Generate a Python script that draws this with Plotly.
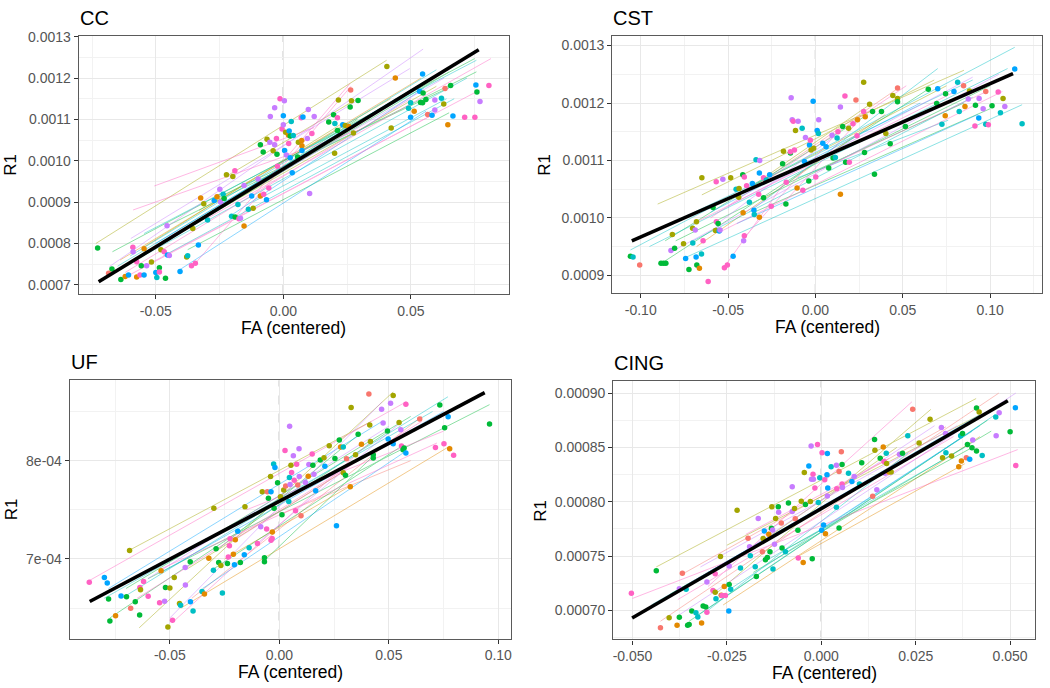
import numpy as np
import plotly.graph_objects as go

# colour codes used for the per-subject hues (ggplot-like hue palette)
PAL = {"r": "#F8766D", "o": "#E38900", "y": "#A3A500", "g": "#00BA38",
       "c": "#00BFC4", "b": "#00A5FF", "p": "#C77CFF", "k": "#FF61C3"}

# ---------------- CC ----------------
cc_fa = [-0.0728, -0.0672, -0.0685, -0.0637, -0.0620, -0.0607, -0.0590, -0.0589, -0.0575, -0.0575,
         -0.0562, -0.0557, -0.0546, -0.0546, -0.0536, -0.0517, -0.0500, -0.0496, -0.0486, -0.0486,
         -0.0480, -0.0467, -0.0462, -0.0456, -0.0454, -0.0447, -0.0405, -0.0379, -0.0375, -0.0360,
         -0.0345, -0.0355, -0.0333, -0.0324, -0.0312, -0.0297, -0.0271, -0.0260, -0.0249, -0.0246,
         -0.0236, -0.0232, -0.0223, -0.0203, -0.0198, -0.0189, -0.0190, -0.0178, -0.0174, -0.0168,
         -0.0154, -0.0154, -0.0137, -0.0118, -0.0099, -0.0124, -0.0090, -0.0090, -0.0077, -0.0079,
         -0.0066, -0.0064, -0.0057, -0.0053, -0.0051, -0.0040, -0.0034, -0.0034, -0.0027, -0.0025,
         -0.0023, -0.0013, -0.0005, 0.0000, 0.0000, 0.0004, 0.0005, 0.0012, 0.0009, 0.0020,
         0.0021, 0.0023, 0.0027, 0.0027, 0.0031, 0.0035, 0.0039, 0.0056, 0.0059, 0.0073,
         0.0070, 0.0077, 0.0073, 0.0072, 0.0094, 0.0098, 0.0103, 0.0112, 0.0121, 0.0178,
         0.0197, 0.0201, 0.0212, 0.0202, 0.0212, 0.0216, 0.0233, 0.0243, 0.0257, 0.0264,
         0.0262, 0.0267, 0.0275, 0.0293, 0.0406, 0.0423, 0.0439, 0.0491, 0.0499, 0.0499,
         0.0513, 0.0534, 0.0538, 0.0546, 0.0548, 0.0546, 0.0559, 0.0566, 0.0583, 0.0594,
         0.0594, 0.0620, 0.0629, 0.0634, 0.0645, 0.0656, 0.0665, 0.0711, 0.0751, 0.0755,
         0.0759, 0.0771, 0.0806]
cc_r1 = [.000789, .000738, .000728, .000713, .000720, .000724, .000791, .000780, .000756, .000719,
         .000724, .000746, .000787, .000724, .000746, .000755, .000730, .000718, .000741, .000731,
         .000785, .000780, .000716, .000843, .000772, .000771, .000732, .000767, .000770, .000746,
         .000752, .000836, .000796, .000910, .000896, .000857, .000904, .000913, .000931, .000900,
         .000919, .000909, .000966, .000866, .000962, .000864, .000976, .000894, .000860, .000861,
         .000842, .000940, .000883, .000885, .000956, .000915, .001039, .000915, .000919, .001021,
         .000906, .001052, .000934, .001045, .001107, .001024, .001039, .001128, .001054, .001016,
         .000987, .001150, .001077, .001087, .001109, .001145, .001025, .001014, .001069, .001062,
         .001042, .001072, .001007, .001060, .001095, .000971, .001061, .001009, .001045, .001036,
         .001104, .001106, .001025, .001049, .001054, .001124, .000921, .001066, .001107, .001094,
         .001111, .001018, .001104, .001090, .001073, .001147, .001087, .001085, .001083, .001171,
         .001130, .001145, .001067, .001146, .001228, .001079, .001200, .001127, .001105, .001140,
         .001120, .001168, .001141, .001210, .001164, .001140, .001148, .001112, .001110, .001123,
         .001147, .001151, .001137, .001175, .001087, .001182, .001108, .001105, .001105, .001183,
         .001166, .001143, .001182]
cc_col = ("ggrgobkpko" "kgobpybcgk" "ykgpbpbyck" "kyboycbopp" "cgycygkckp"
          "opcypbgokg" "bykppyppkg" "kkkpbpbpyo" "kbbgcbcgyo" "kbbopppkpg"
          "gykcgybyor" "gyygyyocbc" "obgbgggrbp" "pcyrogbkkb" "gpk")
# per-subject fitted lines: start/end FA, start/end R1
cc_lx0 = [-0.0735, -0.0670, -0.0682, -0.0589, -0.0506, -0.0598, -0.0546, -0.0640, -0.0454, -0.0375,
          -0.0345, -0.0174, -0.0560, -0.0470, -0.0600, -0.0300, -0.0200, -0.0330, -0.0230, -0.0480,
          -0.0410, -0.0260, -0.0120, -0.0550, -0.0650, -0.0600, -0.0580, -0.0500, -0.0450, -0.0620,
          -0.0550, -0.0400]
cc_lx1 = [0.0405, 0.0750, 0.0548, 0.0300, 0.0120, 0.0496, 0.0757, 0.0540, 0.0757, 0.0650,
          0.0262, 0.0265, 0.0770, 0.0670, 0.0600, 0.0814, 0.0550, 0.0420, 0.0290, 0.0290,
          0.0560, 0.0660, 0.0640, 0.0230, 0.0700, 0.0600, 0.0650, 0.0550, 0.0630, 0.0500,
          0.0720, 0.0600]
cc_ly0 = [.000800, .000780, .000744, .000881, .000939, .000812, .000824, .000760, .000843, .000785,
          .000752, .000862, .000740, .000770, .000725, .000860, .000870, .000880, .000960, .000800,
          .000735, .000910, .000900, .000790, .000745, .000770, .000760, .000800, .000815, .000730,
          .000770, .000830]
cc_ly1 = [.001243, .001247, .001270, .001075, .001080, .001223, .001243, .001200, .001215, .001116,
          .001187, .001180, .001171, .001150, .001116, .001247, .001175, .001150, .001150, .001100,
          .001120, .001180, .001150, .001090, .001245, .001220, .001215, .001190, .001200, .001150,
          .001200, .001180]
cc_lcol = "ygpkkpcoggkkkckkbyygbgcyccgbpkcy"
cc_fix = [0.00098, 0.003765, -0.0724, 0.0766]   # intercept, slope, x from, x to

# ---------------- CST ----------------
cst_fa = [-0.1059, -0.1044, -0.1006, -0.0884, -0.0869, -0.0856, -0.0827, -0.0819, -0.0806, -0.0755,
          -0.0743, -0.0724, -0.0703, -0.0702, -0.0683, -0.0679, -0.0681, -0.0688, -0.0664, -0.0652,
          -0.0650, -0.0643, -0.0614, -0.0586, -0.0572, -0.0568, -0.0567, -0.0557, -0.0551, -0.0546,
          -0.0530, -0.0521, -0.0504, -0.0485, -0.0471, -0.0454, -0.0437, -0.0439, -0.0416, -0.0414,
          -0.0411, -0.0407, -0.0407, -0.0394, -0.0378, -0.0361, -0.0352, -0.0350, -0.0340, -0.0325,
          -0.0321, -0.0321, -0.0319, -0.0297, -0.0297, -0.0281, -0.0262, -0.0253, -0.0188, -0.0183,
          -0.0169, -0.0167, -0.0143, -0.0143, -0.0139, -0.0133, -0.0127, -0.0120, -0.0114, -0.0105,
          -0.0099, -0.0076, -0.0072, -0.0063, -0.0057, -0.0038, -0.0034, -0.0029, -0.0025, -0.0013,
          -0.0010, 0.0002, 0.0010, 0.0017, 0.0019, 0.0042, 0.0061, 0.0076, 0.0095, 0.0101,
          0.0114, 0.0124, 0.0129, 0.0143, 0.0143, 0.0156, 0.0169, 0.0173, 0.0190, 0.0194,
          0.0215, 0.0232, 0.0238, 0.0241, 0.0276, 0.0276, 0.0281, 0.0285, 0.0310, 0.0327,
          0.0338, 0.0378, 0.0403, 0.0428, 0.0443, 0.0470, 0.0470, 0.0470, 0.0515, 0.0646,
          0.0694, 0.0700, 0.0724, 0.0743, 0.0745, 0.0793, 0.0814, 0.0823, 0.0848, 0.0856,
          0.0875, 0.0882, 0.0913, 0.0916, 0.0935, 0.0937, 0.0960, 0.0975, 0.0975, 0.0990,
          0.1011, 0.1046, 0.1059, 0.1074, 0.1084, 0.1141, 0.1183]
cst_r1 = [.000933, .000932, .000918, .000921, .000921, .000921, .000943, .000971, .000947, .000955,
          .000929, .000910, .000982, .000956, .000932, .000918, .000993, .000979, .000912, .000937,
          .001070, .000960, .000889, .001018, .000978, .001063, .000993, .000990, .000977, .000979,
          .001067, .000913, .000918, .001070, .000933, .001050, .001051, .001036, .001075, .001009,
          .000960, .000969, .001071, .001056, .001027, .001060, .001013, .001006, .001101, .001041,
          .001078, .001001, .001100, .001070, .001035, .001066, .001075, .001020, .001094, .001116,
          .001024, .001062, .001113, .001115, .001209, .001171, .001168, .001118, .001152, .001052,
          .001168, .001156, .001048, .001098, .001140, .001064, .001127, .001135, .001118, .001203,
          .001121, .001071, .001152, .001147, .001171, .001130, .001124, .001087, .001144, .001104,
          .001105, .001139, .001150, .001041, .001193, .001159, .001212, .001097, .001156, .001097,
          .001164, .001205, .001143, .001171, .001236, .001185, .001114, .001176, .001198, .001185,
          .001076, .001185, .001147, .001129, .001213, .001226, .001208, .001202, .001159, .001224,
          .001199, .001225, .001163, .001178, .001216, .001220, .001236, .001185, .001230, .001194,
          .001207, .001221, .001160, .001196, .001174, .001208, .001190, .001220, .001163, .001162,
          .001195, .001219, .001183, .001208, .001194, .001259, .001164]
cst_col = ("gcrgggpygy" "bgycbgypoc" "ykkgykkgbp" "pkkybcyygo" "pkkkcbbcck"
           "bopkgcbkgy" "gkgkppkkyo" "pckbpgbkyb" "ykbcpbbgpg" "cckopgkgyk"
           "krkoykgoyg" "ggygyryggg" "gbcogbccro" "pykgbpprck" "gkcypbc")
cst_lx0 = [-0.0903, -0.1059, -0.0650, -0.0860, -0.0830, -0.0520, -0.0410, -0.0600, -0.0700, -0.0750,
           -0.0550, -0.0350, -0.0450, -0.0680, -0.0300, -0.0160, -0.0100, -0.0860, -0.0460, -0.0380,
           -0.0200, -0.0560, -0.0330, 0.0000, -0.0900, -0.0800, -0.0700, -0.0600, -0.0500, -0.0950]
cst_lx1 = [0.0850, 0.1141, 0.0680, 0.0650, 0.1050, -0.0180, 0.0100, 0.0520, 0.0900, 0.1183,
           0.1070, 0.1000, 0.0930, 0.0400, 0.0470, 0.0850, 0.0760, 0.0300, 0.0300, 0.0700,
           0.0250, 0.0100, 0.0750, 0.0980, 0.0900, 0.1000, 0.0800, 0.0600, 0.0900, 0.1100]
cst_ly0 = [.001024, .000944, .001040, .000925, .000940, .000915, .000965, .001000, .000960, .000930,
           .000975, .001010, .000990, .000950, .001065, .001060, .001070, .000960, .001035, .001010,
           .001020, .000990, .001060, .001080, .000980, .000960, .000990, .001010, .001020, .000950]
cst_ly1 = [.001257, .001297, .001240, .001225, .001250, .001060, .001140, .001230, .001210, .001197,
           .001220, .001190, .001180, .001180, .001225, .001200, .001170, .001180, .001195, .001260,
           .001170, .001140, .001230, .001220, .001240, .001230, .001220, .001200, .001245, .001260]
cst_lcol = "ycygpkkkcckgborgcgyckpykcgkbpc"
cst_fix = [0.0011002, 0.001334, -0.1051, 0.1131]

# ---------------- UF ----------------
uf_fa = [-0.0868, -0.0799, -0.0786, -0.0780, -0.0774, -0.0748, -0.0723, -0.0698, -0.0684, -0.0679,
         -0.0658, -0.0638, -0.0637, -0.0634, -0.0620, -0.0599, -0.0547, -0.0540, -0.0524, -0.0520,
         -0.0509, -0.0500, -0.0488, -0.0480, -0.0456, -0.0451, -0.0430, -0.0429, -0.0407, -0.0406,
         -0.0394, -0.0353, -0.0342, -0.0322, -0.0301, -0.0299, -0.0289, -0.0277, -0.0267, -0.0260,
         -0.0237, -0.0233, -0.0228, -0.0225, -0.0210, -0.0205, -0.0201, -0.0190, -0.0178, -0.0160,
         -0.0157, -0.0138, -0.0100, -0.0085, -0.0078, -0.0068, -0.0068, -0.0058, -0.0055, -0.0050,
         -0.0040, -0.0038, -0.0038, -0.0032, -0.0033, -0.0026, -0.0020, -0.0024, -0.0008, 0.0005,
         0.0012, 0.0020, 0.0026, 0.0029, 0.0043, 0.0046, 0.0047, 0.0049, 0.0053, 0.0056,
         0.0064, 0.0068, 0.0074, 0.0079, 0.0084, 0.0090, 0.0091, 0.0099, 0.0119, 0.0132,
         0.0135, 0.0150, 0.0153, 0.0158, 0.0166, 0.0187, 0.0204, 0.0208, 0.0228, 0.0254,
         0.0261, 0.0274, 0.0280, 0.0292, 0.0292, 0.0302, 0.0307, 0.0324, 0.0328, 0.0348,
         0.0360, 0.0375, 0.0409, 0.0413, 0.0416, 0.0429, 0.0429, 0.0467, 0.0474, 0.0494,
         0.0497, 0.0508, 0.0520, 0.0520, 0.0547, 0.0555, 0.0558, 0.0565, 0.0570, 0.0578,
         0.0578, 0.0641, 0.0713, 0.0733, 0.0752, 0.0755, 0.0771, 0.0778, 0.0796, 0.0960]
uf_r1 = [.0006762, .0006812, .0006755, .0006594, .0006369, .0006423, .0006624, .0006617, .0007087, .0006500,
         .0006564, .0006430, .0006711, .0006688, .0006772, .0006621, .0006554, .0006879, .0006570, .0006711,
         .0006309, .0006705, .0006376, .0006812, .0006547, .0006530, .0006913, .0006735, .0006973, .0006564,
         .0006470, .0006668, .0006644, .0007007, .0006886, .0007517, .0007104, .0006963, .0006933, .0006654,
         .0006953, .0007020, .0007134, .0007205, .0007047, .0006940, .0007195, .0007282, .0006963, .0007044,
         .0007530, .0007114, .0007158, .0007329, .0007685, .0007013, .0006973, .0007305, .0007685, .0007617,
         .0007839, .0007685, .0007191, .0007275, .0007208, .0007966, .0007930, .0007517, .0007775, .0007634,
         .0007450, .0007701, .0008104, .0007742, .0007584, .0007829, .0008350, .0007758, .0007953, .0007879,
         .0008050, .0007802, .0007490, .0007963, .0007752, .0008121, .0007839, .0007440, .0007779, .0007842,
         .0007960, .0008067, .0007953, .0007862, .0007695, .0008007, .0008030, .0007943, .0008151, .0008023,
         .0007339, .0008211, .0008138, .0008138, .0007876, .0007852, .0008020, .0007735, .0008540, .0008060,
         .0008268, .0008168, .0008678, .0008362, .0008195, .0008060, .0008027, .0008523, .0008383, .0008302,
         .0008221, .0008584, .0008664, .0008171, .0008389, .0008315, .0008148, .0008111, .0008128, .0008574,
         .0008077, .0008423, .0008134, .0008567, .0008171, .0008336, .0008446, .0008121, .0008054, .0008372]
uf_col = ("kbbggobgyr" "ggkykkkopg" "yykyycppgb" "ccoocyggyc" "gkkkobobgb"
          "yckpyggkrg" "ybkokcbggy" "gykrccppyk" "pkkkrpprpo" "pkgpbgybyg"
          "bgocygroyy" "goryyggppg" "bpybypkggk" "brkgkgbokg")
uf_lx0 = [-0.0684, -0.0868, -0.0720, -0.0600, -0.0774, -0.0640, -0.0500, -0.0540, -0.0450, -0.0400,
          -0.0300, -0.0350, -0.0250, -0.0200, -0.0490, -0.0780, -0.0100, -0.0060, -0.0280, -0.0420,
          -0.0150, 0.0000, -0.0800, -0.0700, -0.0600, -0.0550, -0.0650]
uf_lx1 = [0.0420, 0.0580, 0.0770, 0.0960, 0.0500, 0.0520, 0.0470, 0.0720, 0.0780, 0.0650,
          0.0560, 0.0580, 0.0330, 0.0300, 0.0420, 0.0470, 0.0550, 0.0430, 0.0360, 0.0300,
          0.0750, 0.0600, 0.0700, 0.0600, 0.0500, 0.0750, 0.0650]
uf_ly0 = [.000709, .000678, .000660, .000680, .000640, .000630, .000640, .000690, .000650, .000660,
          .000690, .000670, .000700, .000720, .000635, .000670, .000716, .000700, .000710, .000690,
          .000750, .000745, .000660, .000670, .000680, .000685, .000660]
uf_ly1 = [.000840, .000860, .000865, .000857, .000830, .000870, .000860, .000818, .000815, .000845,
          .000815, .000810, .000775, .000790, .000820, .000840, .000838, .000805, .000826, .000790,
          .000830, .000800, .000850, .000845, .000835, .000850, .000840]
uf_lcol = "ykcggypkorgbokkbpggykrcgpbk"
uf_fix = [0.0007587, 0.0011774, -0.0866, 0.0938]

# ---------------- CING ----------------
cing_fa = [-0.0503, -0.0437, -0.0426, -0.0403, -0.0382, -0.0376, -0.0376, -0.0368, -0.0358, -0.0354,
           -0.0350, -0.0343, -0.0332, -0.0327, -0.0317, -0.0313, -0.0306, -0.0303, -0.0303, -0.0287,
           -0.0281, -0.0281, -0.0279, -0.0267, -0.0265, -0.0263, -0.0257, -0.0254, -0.0245, -0.0244,
           -0.0244, -0.0240, -0.0223, -0.0214, -0.0194, -0.0190, -0.0188, -0.0175, -0.0172, -0.0167,
           -0.0156, -0.0154, -0.0151, -0.0148, -0.0143, -0.0139, -0.0136, -0.0131, -0.0132, -0.0129,
           -0.0128, -0.0124, -0.0121, -0.0114, -0.0113, -0.0106, -0.0104, -0.0095, -0.0087, -0.0077,
           -0.0077, -0.0071, -0.0069, -0.0062, -0.0061, -0.0053, -0.0048, -0.0045, -0.0042, -0.0033,
           -0.0029, -0.0027, -0.0026, -0.0024, -0.0022, -0.0021, -0.0017, -0.0010, -0.0008, -0.0004,
           0.0001, 0.0002, 0.0006, 0.0009, 0.0011, 0.0015, 0.0016, 0.0016, 0.0017, 0.0026,
           0.0040, 0.0040, 0.0041, 0.0047, 0.0047, 0.0053, 0.0055, 0.0055, 0.0056, 0.0072,
           0.0081, 0.0087, 0.0101, 0.0107, 0.0136, 0.0141, 0.0142, 0.0147, 0.0156, 0.0164,
           0.0166, 0.0172, 0.0173, 0.0169, 0.0179, 0.0185, 0.0207, 0.0215, 0.0229, 0.0242,
           0.0259, 0.0288, 0.0318, 0.0321, 0.0330, 0.0329, 0.0345, 0.0364, 0.0371, 0.0369,
           0.0374, 0.0387, 0.0384, 0.0393, 0.0399, 0.0401, 0.0411, 0.0411, 0.0418, 0.0426,
           0.0462, 0.0463, 0.0471, 0.0500, 0.0514, 0.0515]
cing_r1 = [.0007158, .0007365, .0006839, .0006933, .0006863, .0007198, .0006936, .0007341, .0007195, .0006863,
           .0006869, .0006994, .0006979, .0006939, .0006884, .0007040, .0007031, .0006982, .0007262, .0007183,
           .0007168, .0007338, .0007107, .0007496, .0007140, .0007137, .0007219, .0007137, .0006994, .0007238,
           .0007408, .0007195, .0007922, .0007390, .0007664, .0007585, .0007502, .0007402, .0007311, .0007846,
           .0007539, .0007661, .0007731, .0007466, .0007487, .0007700, .0007539, .0007953, .0007755, .0007740,
           .0007381, .0007609, .0007846, .0007953, .0007904, .0007804, .0007575, .0007539, .0007989, .0007910,
           .0008139, .0007938, .0007843, .0007737, .0007481, .0008005, .0007441, .0008269, .0007974, .0008330,
           .0008002, .0008513, .0008206, .0007475, .0008254, .0008206, .0008126, .0008528, .0007992, .0008221,
           .0007737, .0008452, .0007785, .0008203, .0007706, .0008248, .0008443, .0008053, .0008126, .0008321,
           .0008336, .0007950, .0008120, .0007758, .0008279, .0008461, .0008342, .0008163, .0008132, .0008263,
           .0008187, .0008233, .0008163, .0008358, .0008050, .0008574, .0008473, .0008111, .0008400, .0008504,
           .0008370, .0008446, .0008352, .0008263, .0008273, .0008273, .0008437, .0008446, .0008607, .0008851,
           .0008540, .0008760, .0008683, .0008406, .0008452, .0008629, .0008422, .0008321, .0008376, .0008607,
           .0008629, .0008528, .0008406, .0008391, .0008498, .0008568, .0008467, .0008863, .0008826, .0008425,
           .0008781, .0008607, .0008820, .0008644, .0008866, .0008333]
cing_col = ("kgryopgrcg" "ggccoggkpk" "ykcyokokbg" "pcycrpccgp" "rybggogygp"
            "cpygprgcgp" "pyrgkyoygb" "yppgkpkkcc" "bkbkobbpbc" "pckgrrgkpc"
            "bpcgrgypgo" "kcypoypgcr" "yypycpyooc" "ggrbgpggyc" "cppgbk")
cing_lx0 = [-0.0437, -0.0500, -0.0426, -0.0380, -0.0370, -0.0350, -0.0330, -0.0300, -0.0280, -0.0260,
            -0.0240, -0.0200, -0.0180, -0.0150, -0.0130, -0.0250, -0.0320, -0.0100, -0.0060, -0.0300,
            0.0000, -0.0200, -0.0450, -0.0400, -0.0350, -0.0300, -0.0380]
cing_lx1 = [0.0410, 0.0520, 0.0470, 0.0515, 0.0330, 0.0440, 0.0460, 0.0240, 0.0290, 0.0420,
            0.0400, 0.0300, 0.0450, 0.0380, 0.0200, 0.0420, 0.0360, 0.0400, 0.0380, 0.0230,
            0.0420, 0.0180, 0.0450, 0.0480, 0.0400, 0.0420, 0.0350]
cing_ly0 = [.000740, .000711, .000690, .000695, .000733, .000690, .000695, .000722, .000715, .000705,
            .000720, .000755, .000735, .000745, .000770, .000760, .000740, .000755, .000750, .000700,
            .000775, .000770, .000705, .000715, .000725, .000735, .000710]
cing_ly1 = [.000895, .000848, .000900, .000900, .000869, .000875, .000880, .000892, .000885, .000860,
            .000865, .000870, .000865, .000850, .000850, .000880, .000870, .000850, .000835, .000845,
            .000870, .000840, .000885, .000890, .000875, .000880, .000860]
cing_lcol = "ykrprgckyocpgcyypgocbkcgpbk"
cing_fix = [0.0007937, 0.00201, -0.0501, 0.0494]

# axis ticks / labels
cc_xt, cc_xl = [-0.05, 0.0, 0.05], ["-0.05", "0.00", "0.05"]
cc_yt = [0.0007, 0.0008, 0.0009, 0.0010, 0.0011, 0.0012, 0.0013]
cc_yl = ["0.0007", "0.0008", "0.0009", "0.0010", "0.0011", "0.0012", "0.0013"]
cst_xt, cst_xl = [-0.10, -0.05, 0.0, 0.05, 0.10], ["-0.10", "-0.05", "0.00", "0.05", "0.10"]
cst_yt = [0.0009, 0.0010, 0.0011, 0.0012, 0.0013]
cst_yl = ["0.0009", "0.0010", "0.0011", "0.0012", "0.0013"]
uf_xt, uf_xl = [-0.05, 0.0, 0.05, 0.10], ["-0.05", "0.00", "0.05", "0.10"]
uf_yt, uf_yl = [0.0007, 0.0008], ["7e-04", "8e-04"]
cing_xt = [-0.05, -0.025, 0.0, 0.025, 0.05]
cing_xl = ["-0.050", "-0.025", "0.000", "0.025", "0.050"]
cing_yt = [0.0007, 0.00075, 0.0008, 0.00085, 0.0009]
cing_yl = ["0.00070", "0.00075", "0.00080", "0.00085", "0.00090"]

W, H = 1050, 688
OX, OY = 0, 4   # residual offset of the plot div once the body margin is removed

panels = [
    dict(name="CC", fa=cc_fa, r1=cc_r1, col=cc_col,
         lines=(cc_lx0, cc_lx1, cc_ly0, cc_ly1, cc_lcol), fix=cc_fix,
         xt=cc_xt, xl=cc_xl, yt=cc_yt, yl=cc_yl,
         xr=[-0.0802, 0.0883], yr=[0.0006777, 0.0013024], box=(78, 509, 33, 294), ry=10),
    dict(name="CST", fa=cst_fa, r1=cst_r1, col=cst_col,
         lines=(cst_lx0, cst_lx1, cst_ly0, cst_ly1, cst_lcol), fix=cst_fix,
         xt=cst_xt, xl=cst_xl, yt=cst_yt, yl=cst_yl,
         xr=[-0.1163, 0.1297], yr=[0.000869, 0.0013172], box=(613, 1044, 33, 293), ry=545),
    dict(name="UF", fa=uf_fa, r1=uf_r1, col=uf_col,
         lines=(uf_lx0, uf_lx1, uf_ly0, uf_ly1, uf_lcol), fix=uf_fix,
         xt=uf_xt, xl=uf_xl, yt=uf_yt, yl=uf_yl,
         xr=[-0.0957, 0.1056], yr=[0.0006191, 0.0008819], box=(69, 511, 381, 642), ry=10),
    dict(name="CING", fa=cing_fa, r1=cing_r1, col=cing_col,
         lines=(cing_lx0, cing_lx1, cing_ly0, cing_ly1, cing_lcol), fix=cing_fix,
         xt=cing_xt, xl=cing_xl, yt=cing_yt, yl=cing_yl,
         xr=[-0.0551, 0.0566], yr=[0.0006732, 0.000911], box=(614, 1037, 382, 643), ry=541),
]

fig = go.Figure()
layout = {}
annots = []
shapes = []
font = "Liberation Sans, Arial, sans-serif"

for i, p in enumerate(panels, start=1):
    xa = "x" if i == 1 else f"x{i}"
    ya = "y" if i == 1 else f"y{i}"
    xkey = "xaxis" if i == 1 else f"xaxis{i}"
    ykey = "yaxis" if i == 1 else f"yaxis{i}"

    # thin subject lines, grouped by colour
    lx0, lx1, ly0, ly1, lcol = p["lines"]
    for code in PAL:
        xs, ys = [], []
        for a, b, c, d, k in zip(lx0, lx1, ly0, ly1, lcol):
            if k == code:
                xs += [a, b, None]
                ys += [c, d, None]
        if xs:
            fig.add_trace(go.Scatter(x=xs, y=ys, mode="lines", xaxis=xa, yaxis=ya,
                                     line=dict(color=PAL[code], width=0.9), opacity=0.5,
                                     hoverinfo="skip", showlegend=False))

    # points
    fig.add_trace(go.Scatter(x=p["fa"], y=p["r1"], mode="markers", xaxis=xa, yaxis=ya,
                             marker=dict(color=[PAL[k] for k in p["col"]], size=5.5),
                             showlegend=False))

    # fixed-effect line
    a, b, x0, x1 = p["fix"]
    fx = np.array([x0, x1])
    fig.add_trace(go.Scatter(x=fx, y=a + b * fx, mode="lines", xaxis=xa, yaxis=ya,
                             line=dict(color="black", width=3.6), showlegend=False))

    L, R, T, B = p["box"]
    L, R, T, B = L - OX, R - OX, T - OY, B - OY

    # vertical dashed line at 0
    shapes.append(dict(type="line", xref=xa, yref="paper", x0=0, x1=0,
                       y0=1 - B / H, y1=1 - T / H,
                       line=dict(color="#808080", width=1.1, dash="dash"), layer="below"))

    xstep = p["xt"][1] - p["xt"][0]
    xminor = [v + xstep / 2 for v in [p["xt"][0] - xstep] + p["xt"]]
    ystep = p["yt"][1] - p["yt"][0]
    yminor = [v + ystep / 2 for v in [p["yt"][0] - ystep] + p["yt"]]

    common = dict(showline=True, mirror=True, linecolor="#5A5A5A", linewidth=1.2,
                  ticks="outside", ticklen=4, tickcolor="#333333", tickwidth=1,
                  showgrid=True, gridcolor="#E8E8E8", gridwidth=1.1, zeroline=False,
                  tickfont=dict(family=font, size=14, color="#555555"))
    layout[xkey] = dict(common, domain=[L / W, R / W], range=p["xr"], anchor=ya,
                        tickmode="array", tickvals=p["xt"], ticktext=p["xl"],
                        minor=dict(tickvals=xminor, showgrid=True, gridcolor="#F2F2F2", gridwidth=0.6, ticks=""))
    layout[ykey] = dict(common, domain=[1 - B / H, 1 - T / H], range=p["yr"], anchor=xa,
                        tickmode="array", tickvals=p["yt"], ticktext=p["yl"],
                        minor=dict(tickvals=yminor, showgrid=True, gridcolor="#F2F2F2", gridwidth=0.6, ticks=""))

    annots.append(dict(text=p["name"], xref="paper", yref="paper", x=(L - 1) / W, y=1 - (T - 18) / H,
                       xanchor="left", yanchor="middle", showarrow=False,
                       font=dict(family=font, size=20, color="black")))
    annots.append(dict(text="FA (centered)", xref="paper", yref="paper", x=(L + R) / 2 / W,
                       y=1 - (B + 34) / H, xanchor="center", yanchor="middle", showarrow=False,
                       font=dict(family=font, size=17.5, color="black")))
    annots.append(dict(text="R1", xref="paper", yref="paper", x=(p["ry"] - OX) / W,
                       y=1 - (T + B) / 2 / H, xanchor="center", yanchor="middle", showarrow=False,
                       textangle=-90, font=dict(family=font, size=17, color="black")))

fig.update_layout(width=W, height=H, margin=dict(l=0, r=0, t=0, b=0),
                  paper_bgcolor="white", plot_bgcolor="white",
                  annotations=annots, shapes=shapes, **layout)

# drop the default page margin so the figure sits at the window's corner
fig.write_html("out.html", config={"displayModeBar": False},
               post_script="document.body.style.margin = '0';")
